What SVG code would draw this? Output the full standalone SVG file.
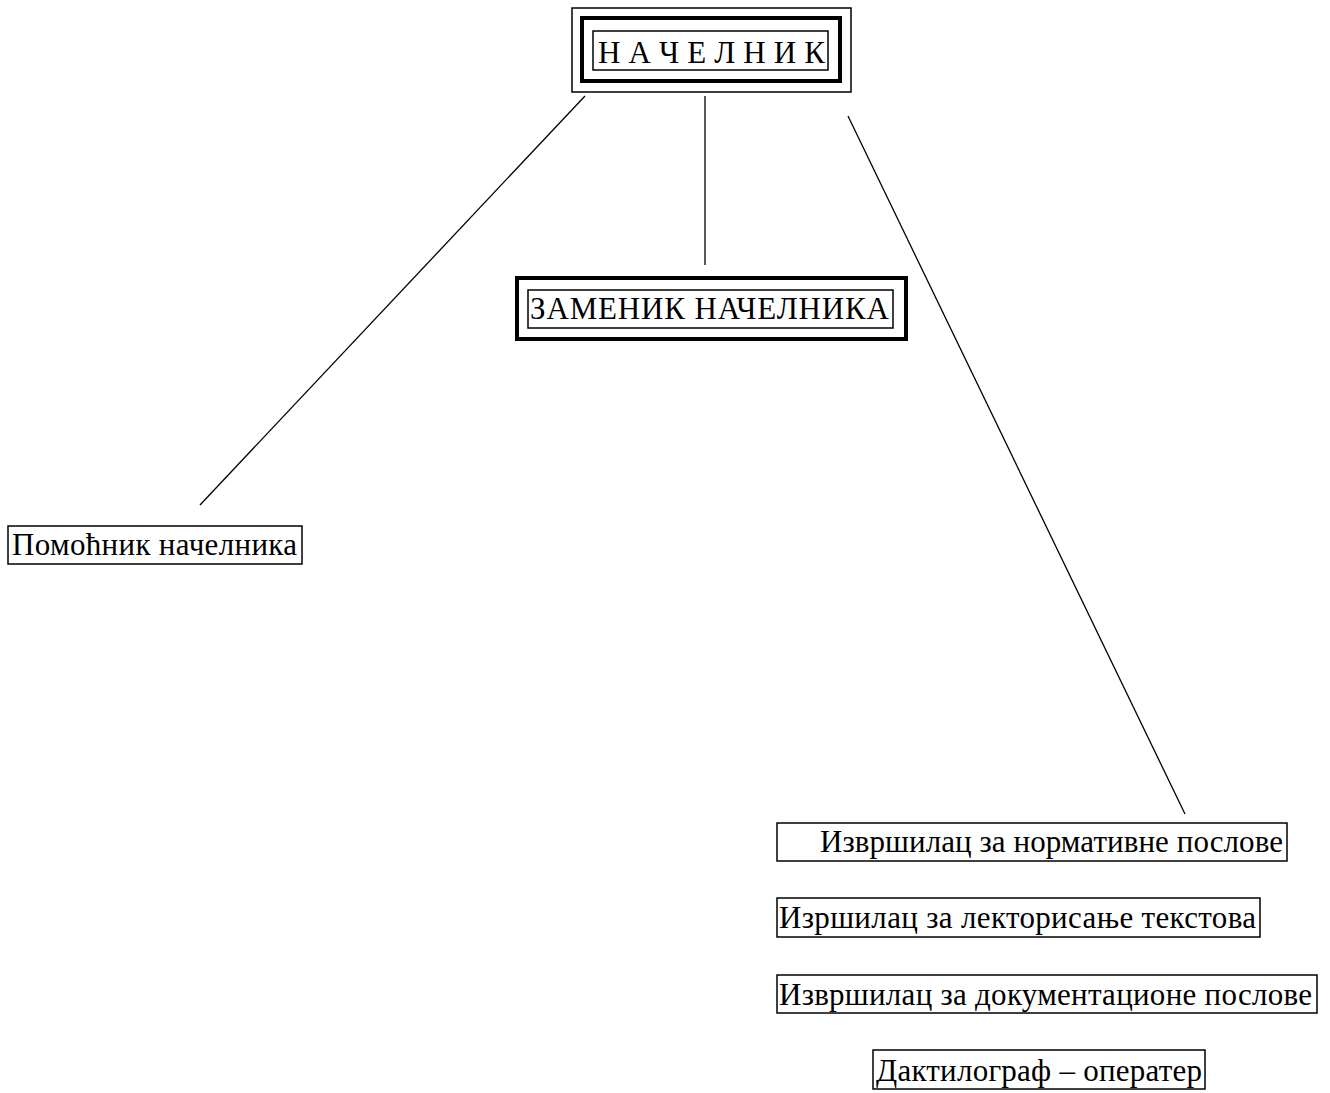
<svg xmlns="http://www.w3.org/2000/svg" width="1330" height="1093" viewBox="0 0 1330 1093">
<style>
.thin{fill:none;stroke:#000;stroke-width:1.5}
.thick{fill:none;stroke:#000;stroke-width:4}
.t{font-family:"Liberation Serif","Times New Roman",serif;font-size:31px;fill:#000}
.c{fill:none;stroke:#000;stroke-width:1.3}
</style>
<rect width="1330" height="1093" fill="#fff"/>
<g id="connectors">
<line class="c" x1="585" y1="96" x2="200" y2="505"/>
<line class="c" x1="705" y1="96" x2="705" y2="265"/>
<line class="c" x1="848" y1="116" x2="1185" y2="814"/>
</g>
<g id="nachelnik">
<rect class="thin" x="572" y="8" width="279" height="84"/>
<rect class="thick" x="582" y="18" width="258" height="63"/>
<rect class="thin" x="593" y="31" width="235" height="39"/>
<text class="t" x="598" y="63" font-size="31" textLength="227">Н А Ч Е Л Н И К</text>
</g>
<g id="zamenik">
<rect class="thick" x="517" y="278" width="389" height="61"/>
<rect class="thin" x="528" y="290" width="365" height="38"/>
<text class="t" x="530" y="319" textLength="359">ЗАМЕНИК НАЧЕЛНИКА</text>
</g>
<g id="pomocnik">
<rect class="thin" x="8" y="526" width="294" height="38"/>
<text class="t" x="12" y="555" textLength="285">Помоћник начелника</text>
</g>
<g id="normativne">
<rect class="thin" x="777" y="823" width="510" height="38"/>
<text class="t" x="820" y="852" textLength="463">Извршилац за нормативне послове</text>
</g>
<g id="lektorisanje">
<rect class="thin" x="777" y="898" width="483" height="39"/>
<text class="t" x="779" y="928" textLength="477">Изршилац за лекторисање текстова</text>
</g>
<g id="dokumentacione">
<rect class="thin" x="777" y="975" width="540" height="38"/>
<text class="t" x="779" y="1005" textLength="533">Извршилац за документационе послове</text>
</g>
<g id="daktilograf">
<rect class="thin" x="873" y="1050" width="332" height="39"/>
<text class="t" x="876" y="1081" textLength="326">Дактилограф – оператер</text>
</g>
</svg>
